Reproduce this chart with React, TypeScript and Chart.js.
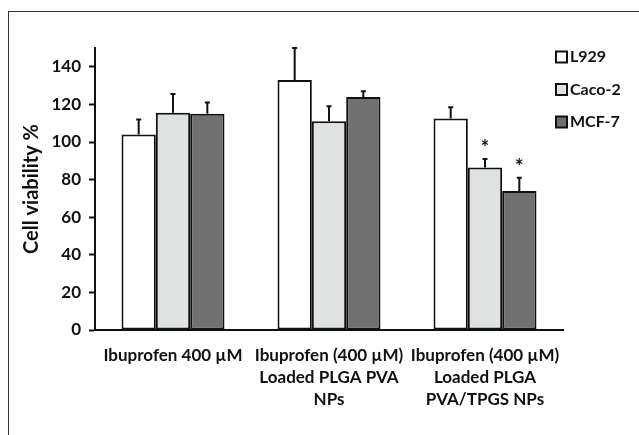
import React, { useEffect, useRef } from "react";
import { Chart, registerables } from "chart.js";

Chart.register(...registerables);

const categories: string[][] = [
  ["Ibuprofen 400 µM"],
  ["Ibuprofen (400 µM)", "Loaded PLGA PVA", "NPs"],
  ["Ibuprofen (400 µM)", "Loaded PLGA", "PVA/TPGS NPs"],
];
const seriesNames = ["L929", "Caco-2", "MCF-7"];
const l929 = [104, 133, 112.5];
const l929Err = [8, 17, 6];
const caco2 = [115.5, 111, 86.5];
const caco2Err = [10, 8, 4.5];
const mcf7 = [115, 124, 74];
const mcf7Err = [6, 3, 7];
const caco2Sig = [false, false, true];
const mcf7Sig = [false, false, true];
const yTicks = [0, 20, 40, 60, 80, 100, 120, 140];
const yMax = 150;
const yTitle = "Cell viability %";

const colors = ["#ffffff", "#e0e2e2", "#707070"];
const errs = [l929Err, caco2Err, mcf7Err];
const sigs = [[false, false, false], caco2Sig, mcf7Sig];
const FONT = "Lato, 'Noto Sans', sans-serif";

const overlayPlugin = {
  id: "overlay",
  afterDatasetsDraw(chart: any) {
    const ctx = chart.ctx;
    const y = chart.scales.y;
    ctx.save();
    chart.data.datasets.forEach((ds: any, di: number) => {
      const meta = chart.getDatasetMeta(di);
      meta.data.forEach((bar: any, i: number) => {
        const v = ds.data[i];
        const e = errs[di][i];
        const yTop = y.getPixelForValue(v);
        const yErr = y.getPixelForValue(v + e);
        ctx.strokeStyle = "#111";
        ctx.lineWidth = 2;
        ctx.beginPath();
        ctx.moveTo(bar.x, yTop);
        ctx.lineTo(bar.x, yErr);
        ctx.moveTo(bar.x - 2.5, yErr);
        ctx.lineTo(bar.x + 2.5, yErr);
        ctx.stroke();
        if (sigs[di][i]) {
          ctx.fillStyle = "#111";
          ctx.font = `bold 20px ${FONT}`;
          ctx.textAlign = "center";
          ctx.textBaseline = "middle";
          ctx.fillText("*", bar.x, yErr - 10);
        }
      });
    });
    // legend
    const lx = 556;
    const ly0 = 57;
    const gap = 32.5;
    chart.data.datasets.forEach((ds: any, di: number) => {
      const cy = ly0 + di * gap;
      ctx.fillStyle = colors[di];
      ctx.fillRect(lx, cy - 5.5, 11, 11);
      ctx.strokeStyle = "#111";
      ctx.lineWidth = 2;
      ctx.strokeRect(lx, cy - 5.5, 11, 11);
      ctx.fillStyle = "#111";
      ctx.font = `bold 16px ${FONT}`;
      ctx.textAlign = "left";
      ctx.textBaseline = "middle";
      ctx.fillText(ds.label, lx + 14, cy);
    });
    ctx.restore();
  },
};

export default function App() {
  const ref = useRef<HTMLCanvasElement>(null);
  useEffect(() => {
    if (!ref.current) return;
    const chart = new Chart(ref.current, {
      type: "bar",
      data: {
        labels: categories,
        datasets: seriesNames.map((name, i) => ({
          label: name,
          data: [l929, caco2, mcf7][i],
          backgroundColor: colors[i],
          borderColor: "#111",
          borderWidth: 2,
          borderSkipped: false,
          barPercentage: 1,
          categoryPercentage: 0.66,
        })),
      },
      options: {
        responsive: false,
        animation: false,
        layout: { padding: { top: 48, right: 76, left: 0, bottom: 0 } },
        plugins: { legend: { display: false }, tooltip: { enabled: false } },
        scales: {
          x: {
            grid: { display: false, drawTicks: false },
            border: { display: true, color: "#111", width: 2 },
            ticks: {
              color: "#111",
              font: { family: FONT, size: 17, weight: "bold", lineHeight: 1.3 },
              padding: 14,
              maxRotation: 0,
              autoSkip: false,
            },
            afterFit: (s: any) => {
              s.height = 105;
            },
          },
          y: {
            min: 0,
            max: yMax,
            afterBuildTicks: (s: any) => {
              s.ticks = yTicks.map((v) => ({ value: v }));
            },
            grid: {
              display: true,
              drawOnChartArea: false,
              drawTicks: true,
              tickLength: 6,
              tickWidth: 2,
              tickColor: "#111",
            },
            border: { display: true, color: "#111", width: 2 },
            ticks: {
              color: "#111",
              font: { family: FONT, size: 17, weight: "bold" },
              padding: 8,
            },
            title: {
              display: true,
              text: yTitle,
              color: "#111",
              font: { family: FONT, size: 20, weight: "bold" },
              padding: { top: 20, bottom: 0 },
            },
            afterFit: (s: any) => {
              s.width = 95;
            },
          },
        },
      },
      plugins: [overlayPlugin],
    });
    return () => chart.destroy();
  }, []);
  return (
    <div style={{ position: "absolute", left: 0, top: 0, width: 639, height: 435, background: "#fff", overflow: "hidden" }}>
      <div
        style={{
          position: "absolute",
          left: 8,
          top: 11,
          width: 700,
          height: 500,
          borderTop: "1.5px solid #333",
          borderLeft: "1.5px solid #333",
        }}
      />
      <canvas ref={ref} width={639} height={435} style={{ position: "absolute", left: 0, top: 0, width: 639, height: 435 }} />
    </div>
  );
}
